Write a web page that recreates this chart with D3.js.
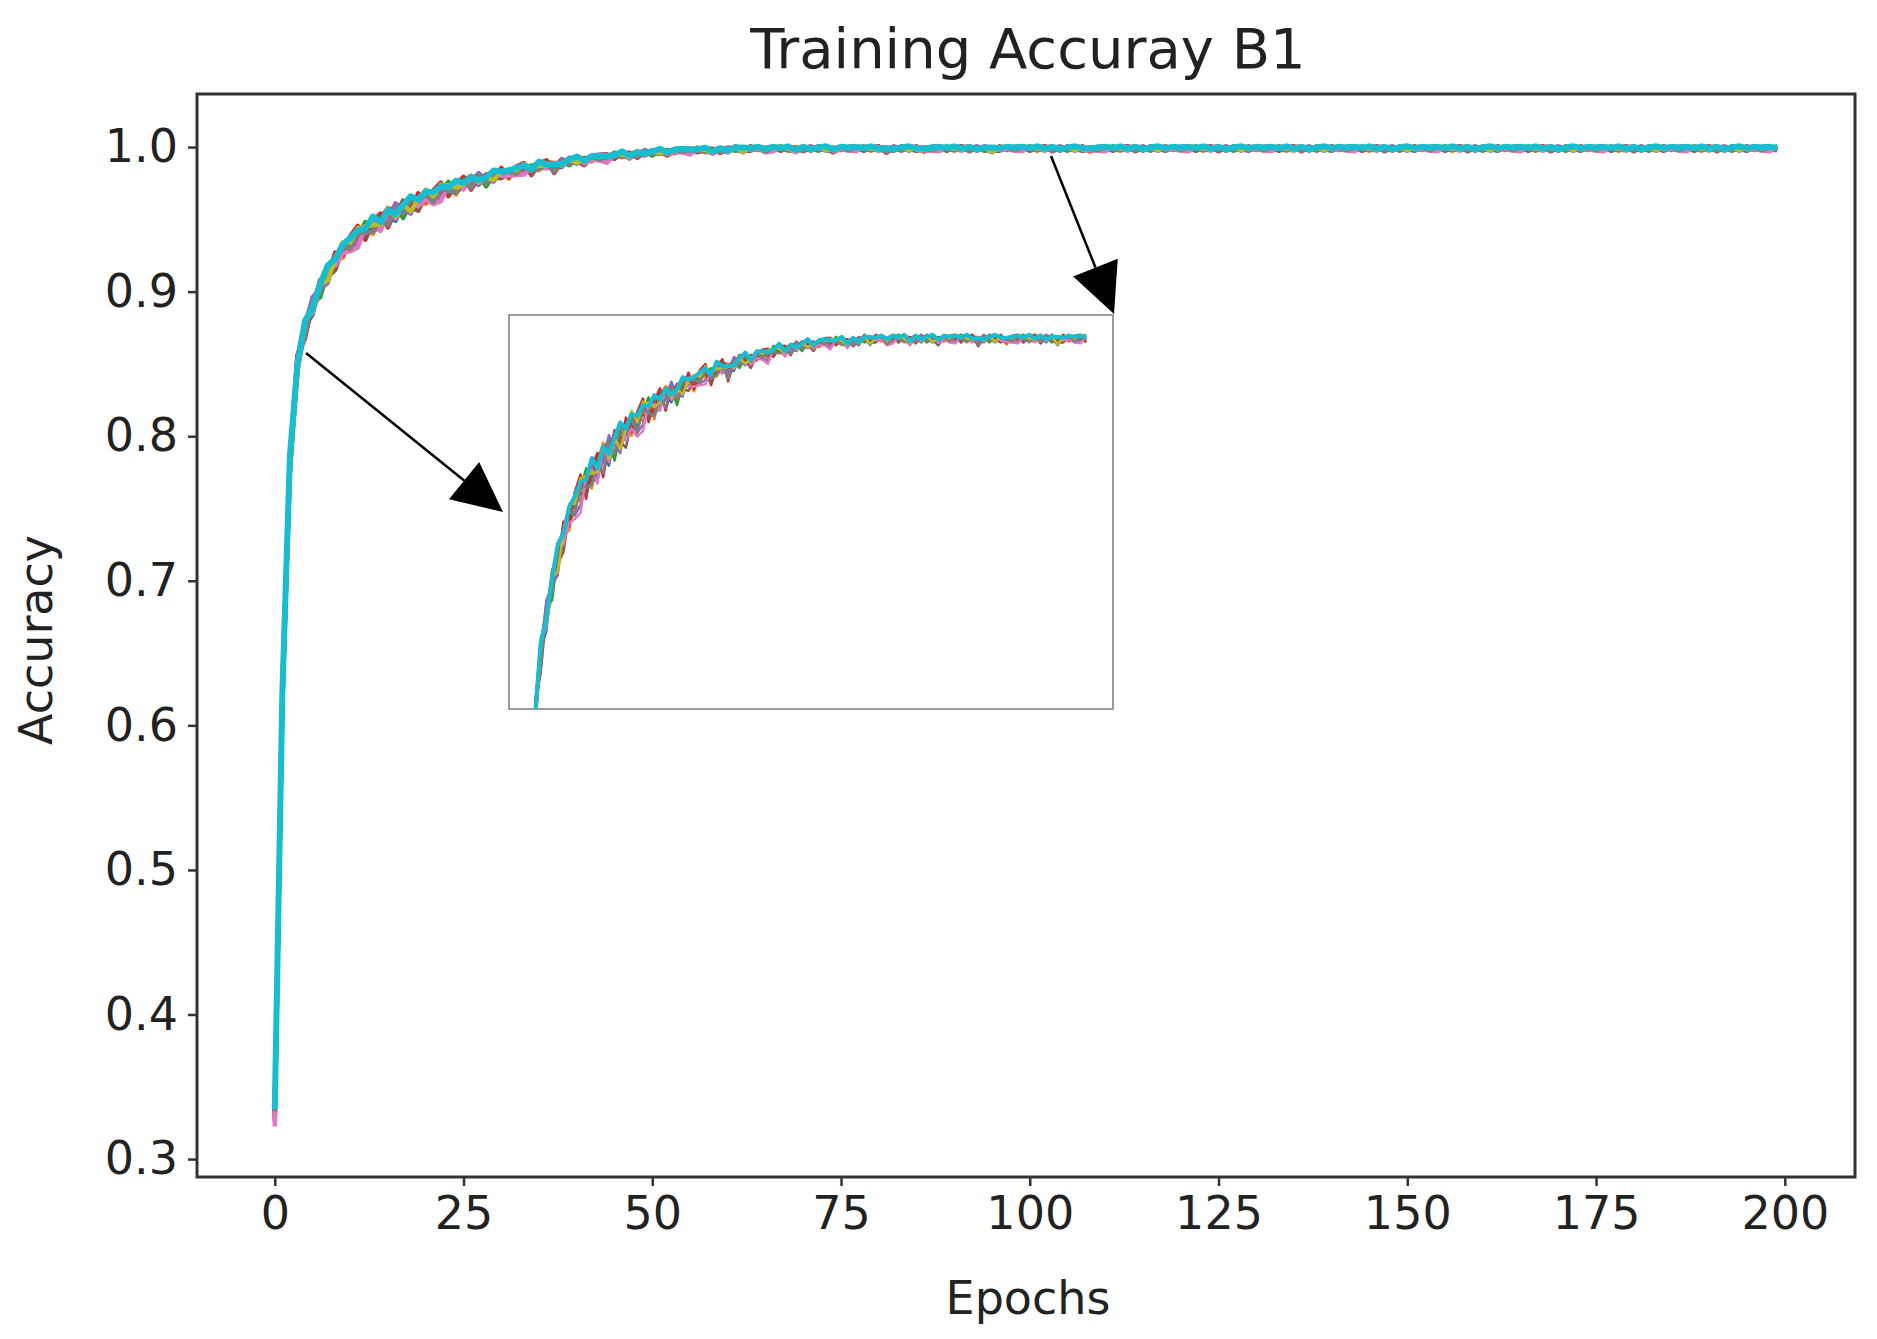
<!DOCTYPE html>
<html><head><meta charset="utf-8">
<script src="https://cdn.jsdelivr.net/npm/d3@7"></script>
<style>body{margin:0;background:#fff}text{font-family:"DejaVu Sans",sans-serif;fill:#222}</style>
</head><body><svg id="chart" width="1877" height="1339"></svg>
<script>
// mean training accuracy per epoch
const baseAcc = [
  0.33,0.62,0.78,0.85,0.875,0.89,0.902,0.912,0.921,0.928,
  0.934,0.938,0.942,0.946,0.948,0.952,0.955,0.957,0.960,0.962,
  0.965,0.966,0.969,0.971,0.972,0.975,0.976,0.978,0.977,0.980,
  0.982,0.981,0.984,0.985,0.984,0.987,0.988,0.986,0.989,0.990,
  0.991,0.990,0.992,0.993,0.992,0.994,0.995,0.994,0.995,0.996,
  0.996,0.997,0.996,0.997,0.998,0.997,0.998,0.998,0.997,0.998,
  0.998,0.999,0.998,0.999,0.999,0.998,0.999,0.999,0.999,0.998,
  0.999,0.999,0.999,0.999,0.998,0.999,0.999,0.999,0.999,0.999,
  0.999,0.998,0.999,0.999,0.999,0.999,0.998,0.999,0.999,0.999,
  0.999,0.999,0.999,0.999,0.999,0.998,0.999,0.999,0.999,0.999,
  0.999,0.999,0.999,0.999,0.999,0.999,0.999,0.999,0.998,0.999,
  0.999,0.999,0.999,0.999,0.999,0.999,0.999,0.999,0.999,0.999,
  0.999,0.999,0.999,0.999,0.999,0.999,0.999,0.999,0.999,0.999,
  0.999,0.999,0.999,0.999,0.999,0.999,0.999,0.999,0.999,0.999,
  0.999,0.999,0.999,0.999,0.999,0.999,0.999,0.999,0.999,0.999,
  0.999,0.999,0.999,0.999,0.999,0.999,0.999,0.999,0.999,0.999,
  0.999,0.999,0.999,0.999,0.999,0.999,0.999,0.999,0.999,0.999,
  0.999,0.999,0.999,0.999,0.999,0.999,0.999,0.999,0.999,0.999,
  0.999,0.999,0.999,0.999,0.999,0.999,0.999,0.999,0.999,0.999,
  0.999,0.999,0.999,0.999,0.999,0.999,0.999,0.999,0.999,0.999
];
const seriesColors = ["#1f77b4","#ff7f0e","#2ca02c","#d62728","#9467bd","#8c564b","#e377c2","#7f7f7f","#bcbd22","#17becf"];
// per-run deviation pattern (repeats along the epochs)
const runOffsets = [
  [0.003,-0.002,0.004,-0.003,0.001,-0.004,0.002,0.000,-0.002,0.003,-0.001],
  [-0.002,0.003,-0.004,0.002,0.004,-0.001,-0.003,0.002,0.001,-0.003,0.002],
  [0.001,0.004,-0.002,-0.003,0.002,0.003,-0.004,0.001,0.003,-0.001,-0.002],
  [0.005,-0.004,0.002,0.004,-0.005,0.001,0.003,-0.003,0.004,-0.002,0.003],
  [-0.003,0.001,0.003,-0.002,-0.001,0.004,0.000,-0.004,0.002,0.003,-0.003],
  [0.000,-0.003,-0.001,0.003,0.002,-0.002,0.004,-0.001,-0.004,0.001,0.002],
  [-0.005,0.002,0.001,-0.004,0.003,-0.003,0.001,0.004,-0.002,-0.001,-0.004],
  [0.002,-0.001,-0.003,0.001,-0.004,0.002,-0.002,0.003,0.000,0.002,-0.003],
  [0.004,0.002,0.000,-0.001,0.003,-0.002,0.002,-0.003,0.001,0.004,0.000],
  [0.003,0.001,0.004,0.000,0.003,-0.001,0.002,0.004,0.001,0.003,0.002]
];
const yTicks = [0.3,0.4,0.5,0.6,0.7,0.8,0.9,1.0];
const xTicks = [0,25,50,75,100,125,150,175,200];

const svg = d3.select("#chart");
const M = {l:197, r:1855, t:94, b:1177};
const x = d3.scaleLinear().domain([-10.3,209.3]).range([M.l, M.r]);
const y = d3.scaleLinear().domain([0.2876,1.0367]).range([M.b, M.t]);

const runs = seriesColors.map((c,k) => baseAcc.map((v,i) => {
  const amp = Math.min(1.5, (1 - v) * 30 + 0.35);
  return {e:i, v: Math.min(1.0005, v + runOffsets[k][i % 11] * amp)};
}));

function drawRuns(g, xs, ys, w, from, to) {
  const line = d3.line().x(d => xs(d.e)).y(d => ys(d.v));
  runs.forEach((r,k) => g.append("path").attr("d", line(r.filter(d => d.e >= from && d.e <= to))).attr("fill","none")
    .attr("stroke", seriesColors[k]).attr("stroke-width", k === 9 ? w + 1.5 : w)
    .attr("stroke-linejoin","round"));
}
drawRuns(svg.append("g"), x, y, 4.5, 0, 199);

// inset (zoomed view of the same runs)
const ix = d3.scaleLinear().domain([3,100]).range([535,1086]);
const iy = d3.scaleLinear().domain([0.86,1.0]).range([692,336]);
svg.append("clipPath").attr("id","ic").append("rect").attr("x",509).attr("y",315).attr("width",604).attr("height",394);
svg.append("rect").attr("x",509).attr("y",315).attr("width",604).attr("height",394)
  .attr("fill","#fff").attr("stroke","#999").attr("stroke-width",2);
drawRuns(svg.append("g").attr("clip-path","url(#ic)"), ix, iy, 2.5, 3, 100);

// arrows
[[1051,156,1114,314],[306,353,503,512]].forEach(a => {
  const [x1,y1,x2,y2] = a;
  const ang = Math.atan2(y2-y1,x2-x1), L = Math.hypot(x2-x1,y2-y1) - 50;
  const bx = x1+Math.cos(ang)*L, by = y1+Math.sin(ang)*L, px = -Math.sin(ang), py = Math.cos(ang);
  svg.append("line").attr("x1",x1).attr("y1",y1).attr("x2",bx).attr("y2",by)
    .attr("stroke","#000").attr("stroke-width",2.5);
  svg.append("path").attr("fill","#000").attr("d",
    `M${bx+px*24},${by+py*24}L${x2},${y2}L${bx-px*24},${by-py*24}Z`);
});

// frame and axes
svg.append("rect").attr("x",M.l).attr("y",M.t).attr("width",M.r-M.l).attr("height",M.b-M.t)
  .attr("fill","none").attr("stroke","#333").attr("stroke-width",3);
const ya = svg.append("g").attr("transform",`translate(${M.l},0)`)
  .call(d3.axisLeft(y).tickValues(yTicks).tickFormat(d3.format(".1f")).tickSize(9).tickPadding(10));
const xa = svg.append("g").attr("transform",`translate(0,${M.b})`)
  .call(d3.axisBottom(x).tickValues(xTicks).tickSize(9).tickPadding(10));
[ya,xa].forEach(a => {
  a.select(".domain").remove();
  a.selectAll("line").attr("stroke","#333").attr("stroke-width",2.5);
  a.selectAll("text").attr("font-size",46).attr("fill","#222");
});
svg.append("text").attr("x",1028).attr("y",68).attr("text-anchor","middle").attr("font-size",56).text("Training Accuray B1");
svg.append("text").attr("x",1028).attr("y",1314).attr("text-anchor","middle").attr("font-size",46).text("Epochs");
svg.append("text").attr("transform","translate(52,640) rotate(-90)").attr("text-anchor","middle").attr("font-size",46).text("Accuracy");
</script></body></html>
